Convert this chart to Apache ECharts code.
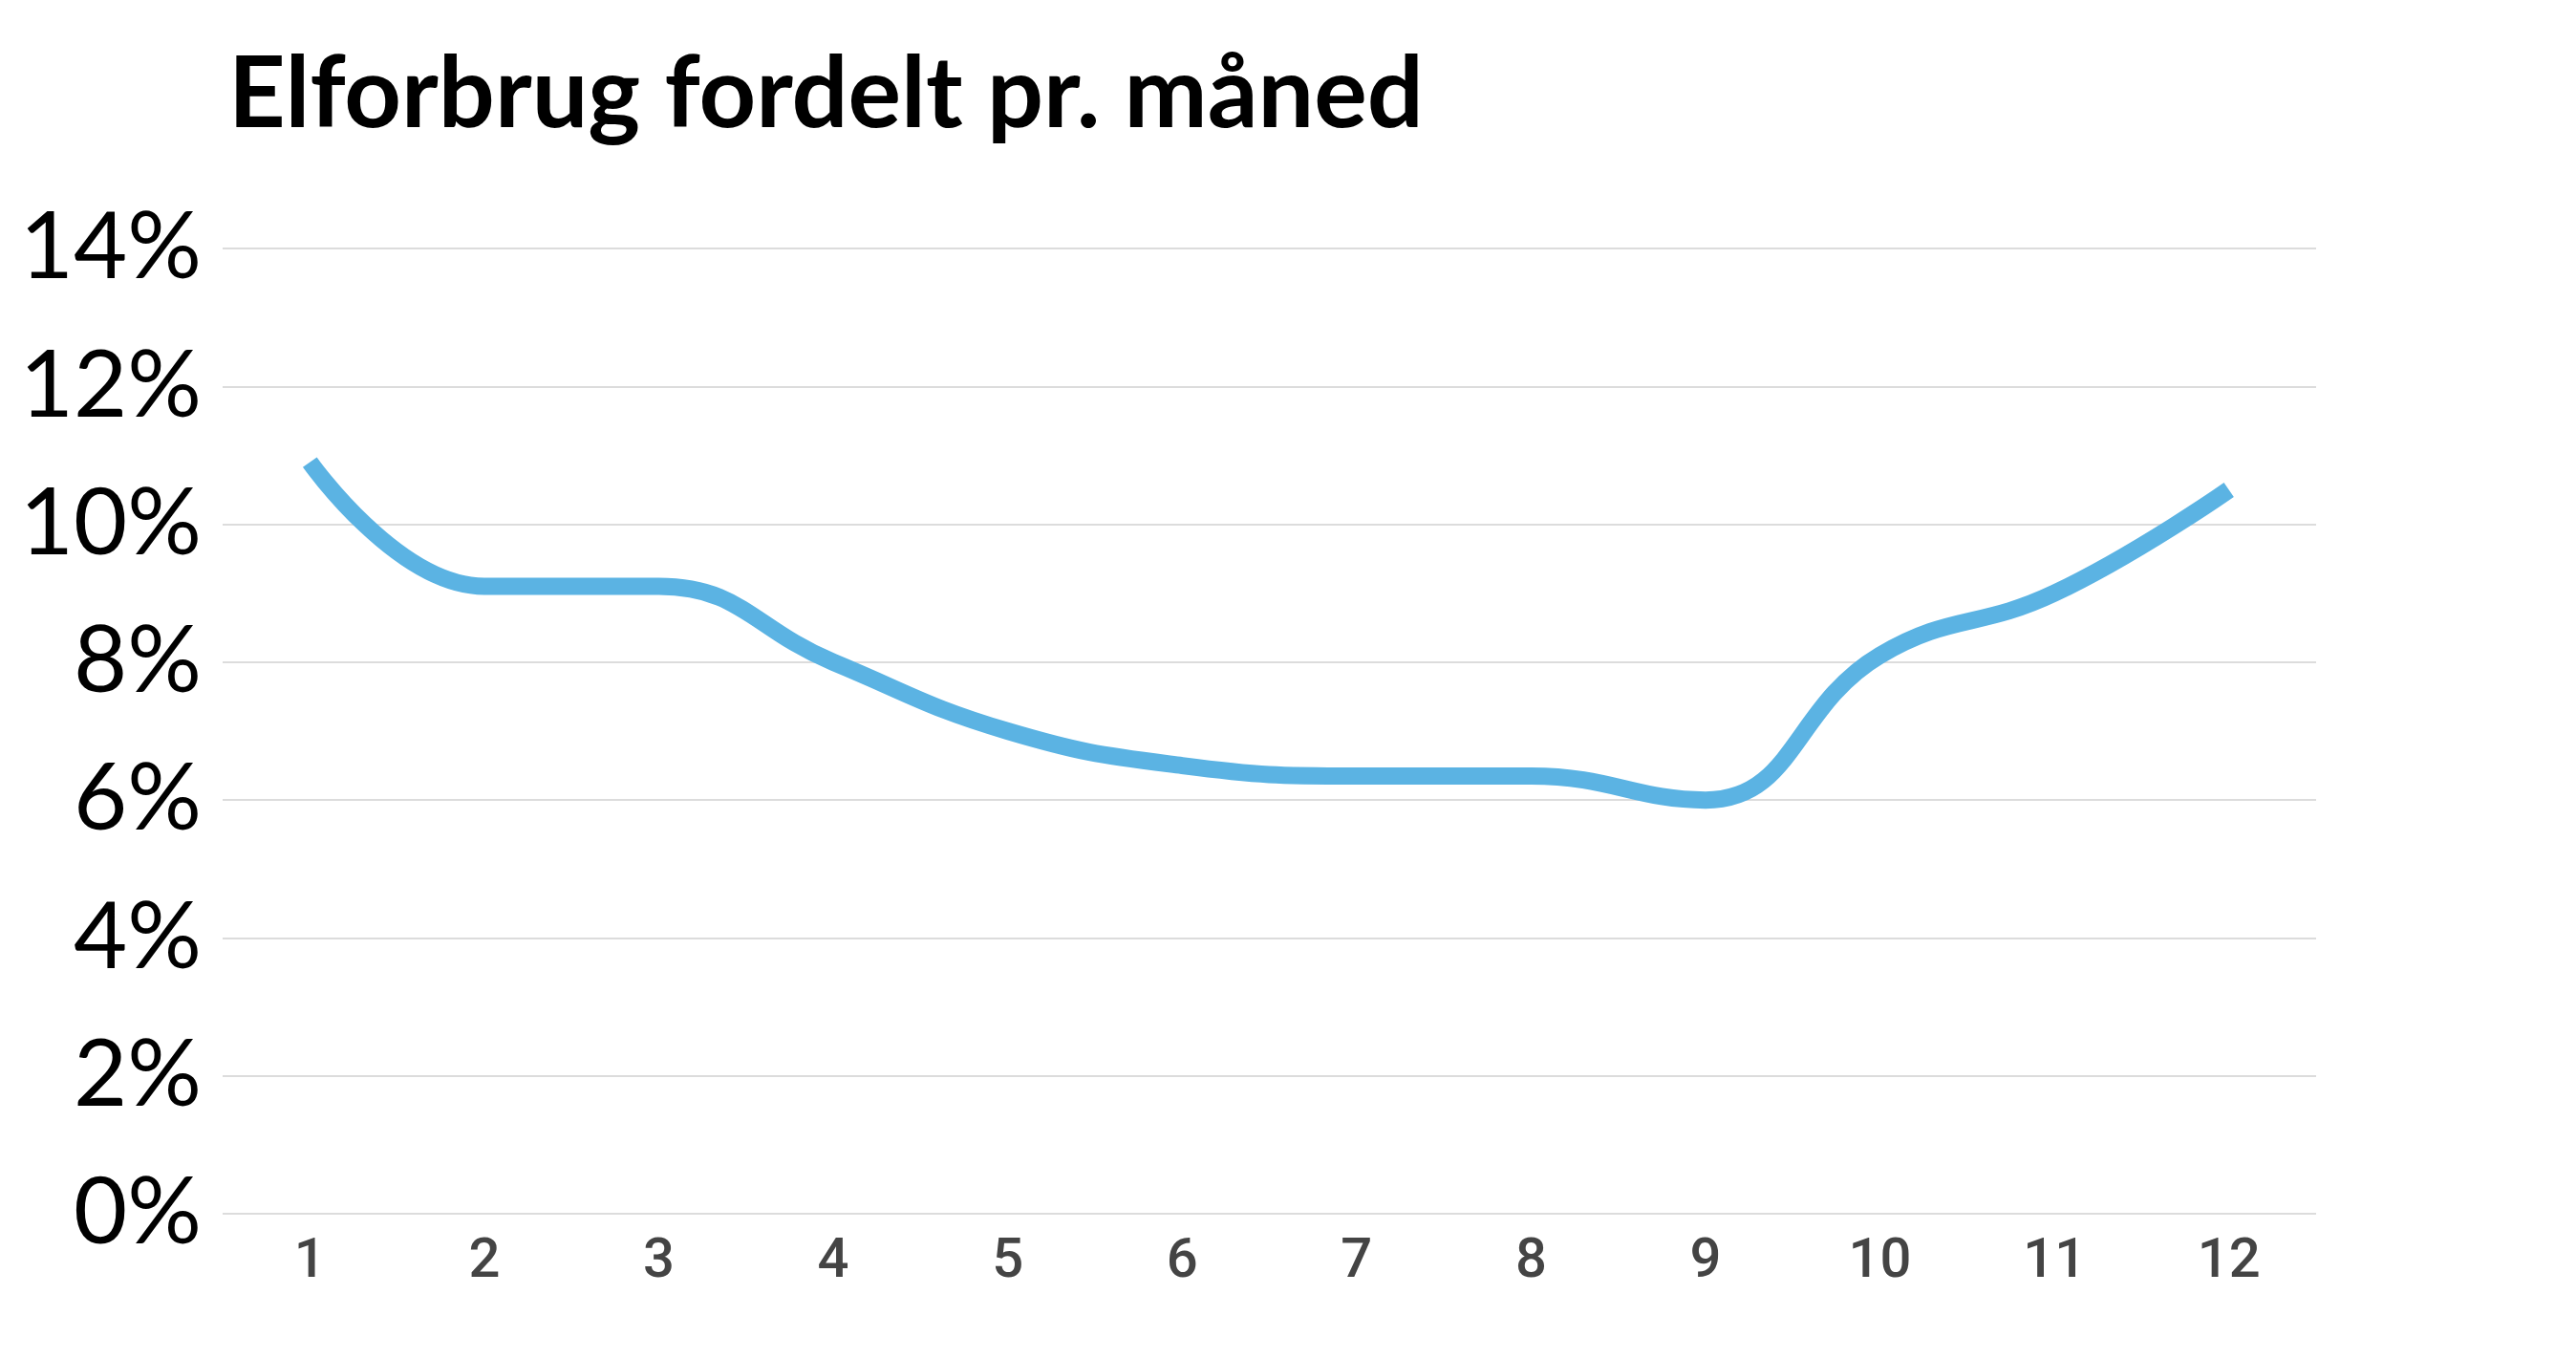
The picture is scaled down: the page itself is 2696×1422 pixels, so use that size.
<!DOCTYPE html>
<html>
<head>
<meta charset="utf-8">
<script src="https://cdn.jsdelivr.net/npm/echarts@6/dist/echarts.min.js"></script>
<style>
html,body{margin:0;padding:0;background:#fff;}
#chart{width:2696px;height:1422px;}
</style>
</head>
<body>
<div id="chart"></div>
<script>
const titleText = 'Elforbrug fordelt pr. måned';
const months = ['1','2','3','4','5','6','7','8','9','10','11','12'];
const shares = [10.9, 9.1, 9.1, 8.0, 7.0, 6.5, 6.35, 6.35, 6.0, 8.1, 9.0, 10.5];
const yTicks = [0, 2, 4, 6, 8, 10, 12, 14];

const chart = echarts.init(document.getElementById('chart'), null, {renderer: 'canvas'});
chart.setOption({
  backgroundColor: '#ffffff',
  animation: false,
  title: {
    text: titleText,
    left: 234,
    top: 42,
    textStyle: {fontFamily: 'Lato', fontWeight: 'bold', fontSize: 104, color: '#000000'}
  },
  grid: {left: 233, right: 272, top: 260, bottom: 152, containLabel: false},
  xAxis: {
    type: 'category',
    data: months,
    boundaryGap: true,
    axisLine: {show: false},
    axisTick: {show: false},
    splitLine: {show: false},
    axisLabel: {fontFamily: 'Roboto', fontWeight: 500, fontSize: 58, color: '#444444', margin: 22}
  },
  yAxis: {
    type: 'value',
    min: yTicks[0],
    max: yTicks[yTicks.length - 1],
    interval: 2,
    axisLine: {show: false},
    axisTick: {show: false},
    splitLine: {lineStyle: {color: '#dcdcdc', width: 2}},
    axisLabel: {
      fontFamily: 'Lato', fontSize: 97, color: '#000000', margin: 22,
      formatter: v => v + '%'
    }
  },
  series: [{
    type: 'line',
    data: shares,
    smooth: 0.45,
    symbol: 'none',
    lineStyle: {color: '#5bb3e3', width: 18, cap: 'butt'}
  }]
});
</script>
</body>
</html>
